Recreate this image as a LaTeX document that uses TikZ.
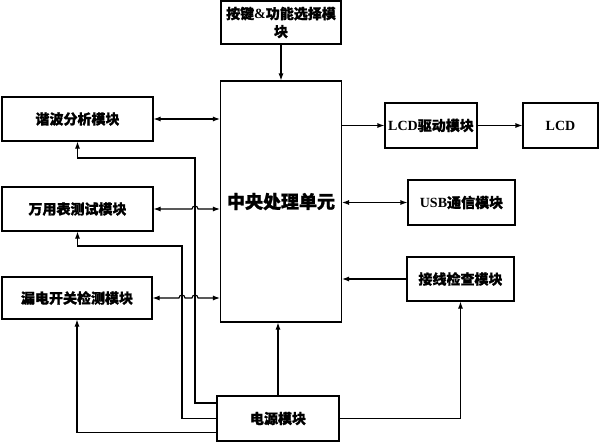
\documentclass[tikz,border=0pt]{standalone}
\usepackage{fontspec}
\setmainfont{Liberation Serif}
\newfontfamily\cjk{Noto Sans CJK SC}[BoldFeatures={FakeBold=1.2}]
\usetikzlibrary{calc,arrows.meta}
\def\zh#1{{\cjk\bfseries #1}}

\begin{document}
\begin{tikzpicture}[x=1pt, y=-1pt, line width=1.1pt,
		module/.style={draw, line width=1.1pt, inner sep=0pt, align=center, font=\fontsize{14}{18}\selectfont\bfseries},
		arr/.style={-{Latex[length=7pt,width=5pt]}},
		biarr/.style={{Latex[length=7pt,width=5pt]}-{Latex[length=7pt,width=5pt]}}]
		%%%%% START %%%%%
		\useasboundingbox (0, 0) rectangle (600, 442);
		
		\node[module, minimum width=120pt, minimum height=43pt] (key) at (281, 22.5) {\zh{按键}\&\zh{功能选择模}\\\zh{块}};
		\node[module, minimum width=121pt, minimum height=241pt, font=\fontsize{18}{20}\selectfont\bfseries] (cpu) at (281, 201.5) {\zh{中央处理单元}};
		
		\node[module, minimum width=151pt, minimum height=44pt] (harm) at (77.5, 119) {\zh{谐波分析模块}};
		\node[module, minimum width=151pt, minimum height=44pt] (meter) at (77.5, 209) {\zh{万用表测试模块}};
		\node[module, minimum width=150pt, minimum height=42pt] (leak) at (77, 298) {\zh{漏电开关检测模块}};
		\node[module, minimum width=122pt, minimum height=45pt] (power) at (278, 418.5) {\zh{电源模块}};
		
		\node[module, minimum width=92pt, minimum height=45pt] (lcddrv) at (431, 125.5) {LCD\zh{驱动模块}};
		\node[module, minimum width=75pt, minimum height=45pt] (lcd) at (560.5, 125.5) {LCD};
		\node[module, minimum width=107pt, minimum height=45pt] (usb) at (461.5, 202.5) {USB\zh{通信模块}};
		\node[module, minimum width=107pt, minimum height=44pt] (wire) at (460.5, 279) {\zh{接线检查模块}};
		
		% feed lines from the power module
		\coordinate (busA) at (182, 246);
		\coordinate (busB) at (195, 158);
		
		\draw[arr] (key.south) -- (key.south |- cpu.north);
		\draw[biarr] (harm.east) -- (harm.east -| cpu.west);
		\draw[biarr] (meter.east) -- ($(meter.east -| busB)+(-3,0)$) arc[start angle=180, end angle=0, radius=3pt] -- (meter.east -| cpu.west);
		\draw[biarr] (leak.east) -- ($(leak.east -| busA)+(-3,0)$) arc[start angle=180, end angle=0, radius=3pt] -- ($(leak.east -| busB)+(-3,0)$) arc[start angle=180, end angle=0, radius=3pt] -- (leak.east -| cpu.west);
		
		\draw[arr] (lcddrv.west -| cpu.east) -- (lcddrv.west);
		\draw[arr] (lcddrv.east) -- (lcddrv.east -| lcd.west);
		\draw[biarr] (usb.west -| cpu.east) -- (usb.west);
		\draw[arr] (wire.west) -- (wire.west -| cpu.east);
		
		\draw[arr] (power.north) -- (power.north |- cpu.south);
		\draw[arr] (power.east) -| (wire.south);
		\draw[arr] ($(power.west)+(0,-15.5)$) -| (busB) -| (harm.south);
		\draw[arr] (power.west) -| (busA) -| (meter.south);
		\draw[arr] ($(power.west)+(0,14)$) -| (leak.south);
		
		%%%%% END %%%%%
	\end{tikzpicture}
\end{document}
